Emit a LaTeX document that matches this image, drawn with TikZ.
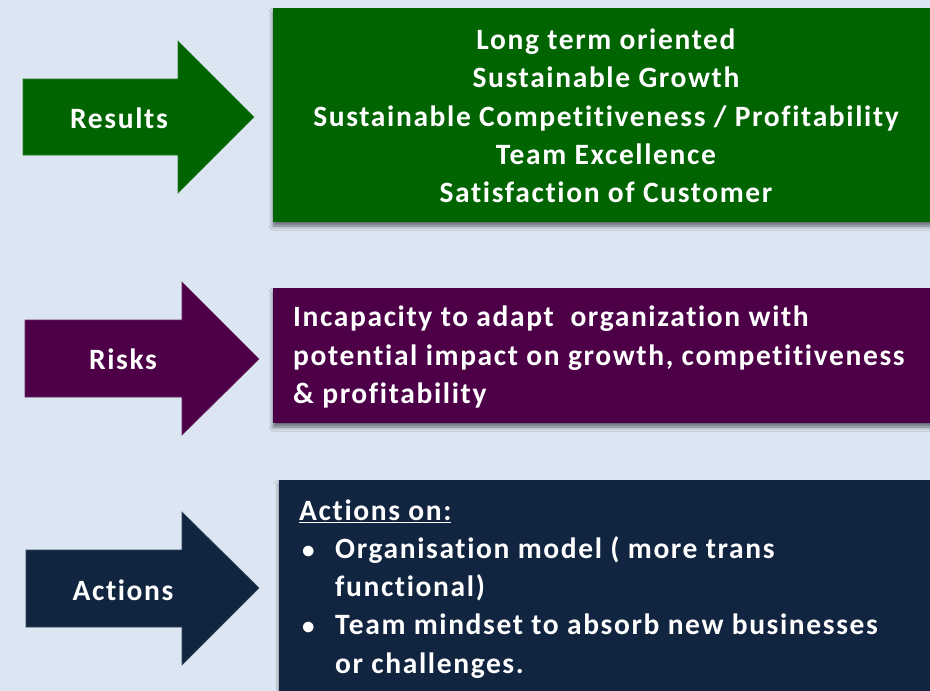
\documentclass[tikz,border=0pt]{standalone}
\usepackage{fontspec}
\setmainfont{Carlito}[LetterSpace=5.5,Ligatures=NoCommon]
\usetikzlibrary{shadows.blur}
\definecolor{bg}{RGB}{220,230,242}
\definecolor{resgreen}{RGB}{0,100,0}
\definecolor{riskpurple}{RGB}{77,0,72}
\definecolor{actnavy}{RGB}{18,37,64}
\tikzset{
  bigarrow/.style={line width=0.6pt},
  panel/.style={blur shadow={shadow xshift=0pt,shadow yshift=-4pt,shadow blur radius=4pt,shadow opacity=55}},
  lbl/.style={text=white,font=\fontsize{29.5}{32}\selectfont\bfseries,inner sep=0pt},
  paneltext/.style={text=white,font=\fontsize{29.5}{38.3}\selectfont\bfseries,inner sep=0pt},
}
\newcommand{\mybul}{\hspace*{3pt}\makebox[33pt][l]{\fontsize{25}{25}\selectfont•}}
\begin{document}
\begin{tikzpicture}[x=1pt,y=-1pt]
\fill[bg] (0,0) rectangle (930,691);
\useasboundingbox (0,0) rectangle (930,691);
% panels
\fill[resgreen,panel] (273,8) rectangle (940,222);
\fill[riskpurple,panel] (273,288) rectangle (940,423);
\fill[actnavy,panel] (279,480) rectangle (940,700);
% arrows
\filldraw[bigarrow,fill=resgreen,draw=resgreen!85!white] (23,79) -- (178,79) -- (178,41) -- (254,117) -- (178,193) -- (178,155) -- (23,155) -- cycle;
\filldraw[bigarrow,fill=riskpurple,draw=riskpurple!85!white] (25,320) -- (182,320) -- (182,282) -- (259,359) -- (182,435) -- (182,397) -- (25,397) -- cycle;
\filldraw[bigarrow,fill=actnavy,draw=actnavy!85!white] (26,550) -- (182,550) -- (182,512) -- (259,588) -- (182,665) -- (182,627) -- (26,627) -- cycle;
% arrow labels
\node[lbl] (resultsLbl) at (119,118) {Results};
\node[lbl] (risksLbl) at (123,359) {Risks};
\node[lbl] (actionsLbl) at (123,590) {Actions};
% panel texts
\node[paneltext,align=center] (resultsTxt) at (606,116) {Long term oriented\\Sustainable Growth\\Sustainable Competitiveness / Profitability\\Team Excellence\\Satisfaction of Customer};
\node[paneltext,align=left,anchor=west] (risksTxt) at (293,357) {Incapacity to adapt\ \ organization with\\potential impact on growth, competitiveness\\\& profitability};
\node[paneltext,align=left,anchor=north west] (actionsTxt) at (299,500) {\underline{Actions on:}\\[-1pt]
\mybul Organisation model ( more trans\\
\hspace*{36pt}functional)\\[0pt]
\mybul Team mindset to absorb new businesses\\
\hspace*{36pt}or challenges.};
\end{tikzpicture}
\end{document}
